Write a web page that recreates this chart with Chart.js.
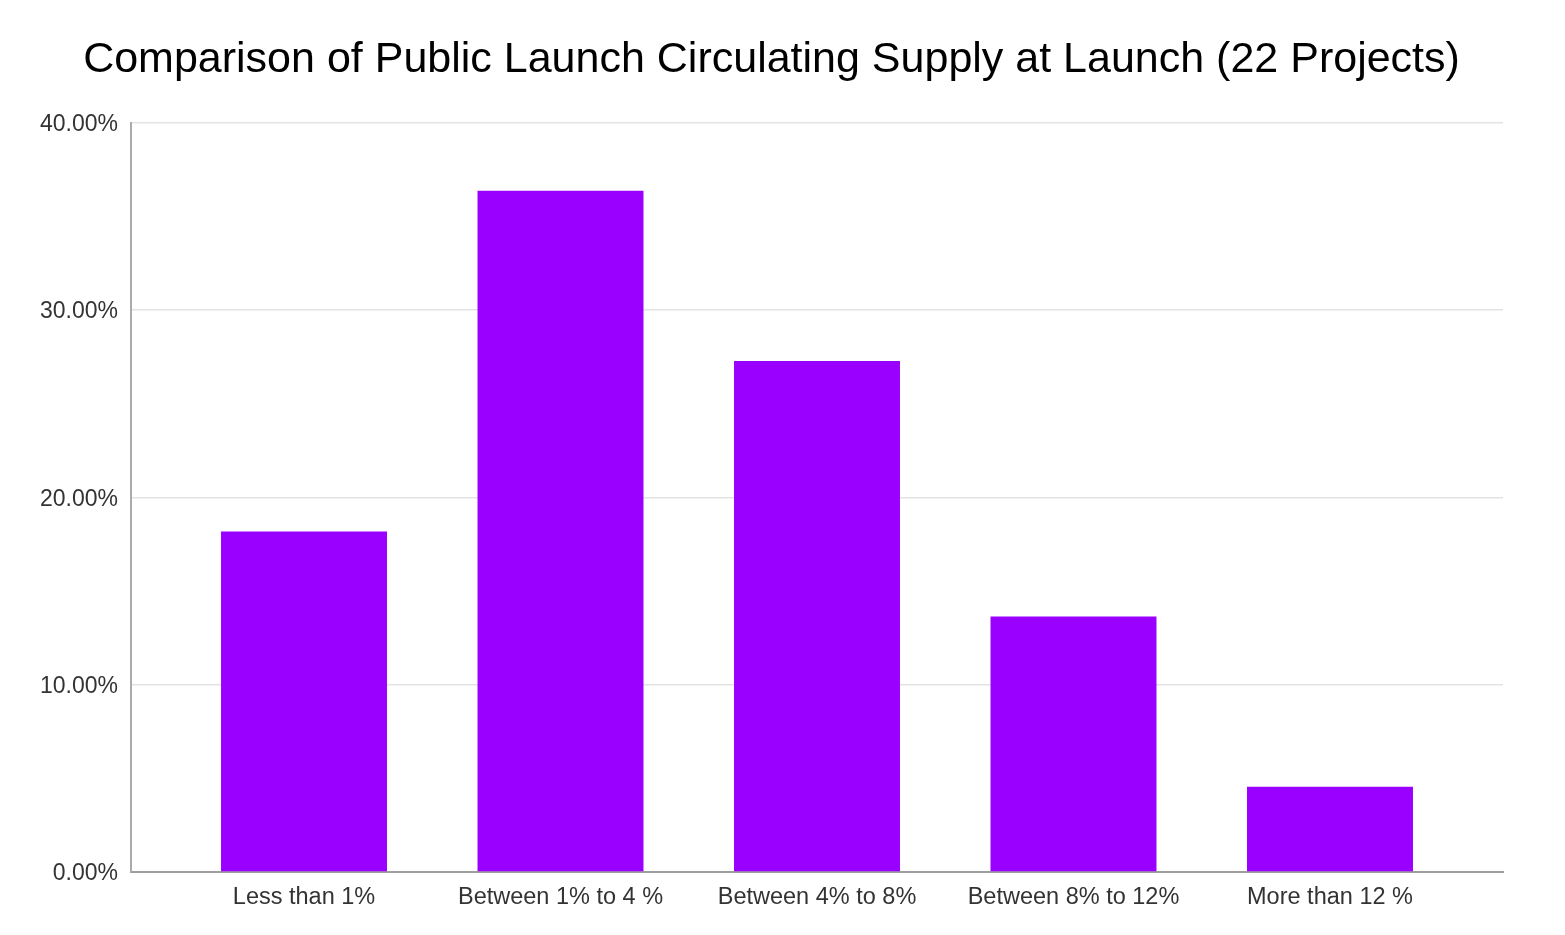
<!DOCTYPE html>
<html>
<head>
<meta charset="utf-8">
<script src="https://cdn.jsdelivr.net/npm/chart.js@4/dist/chart.umd.min.js"></script>
<style>
  html, body { margin: 0; padding: 0; background: #fff; }
  #wrap { width: 1565px; height: 935px; }
</style>
</head>
<body>
<div id="wrap"><canvas id="chart" width="1565" height="935"></canvas></div>
<script>
// share of the 22 projects in each bucket (percent)
const categories = ["Less than 1%", "Between 1% to 4 %", "Between 4% to 8%", "Between 8% to 12%", "More than 12 %"];
const shares = [18.18, 36.36, 27.27, 13.64, 4.55];
const yTicks = [0, 10, 20, 30, 40];

const FONT = "'Liberation Sans', Arial, Helvetica, sans-serif";

// bars sit on a numeric x axis (index of the category) so the
// outer margins can be wider than half a slot, like the original
const points = shares.map((v, i) => ({ x: i, y: v }));
const edge = 0.6745;

const ctx = document.getElementById("chart");
new Chart(ctx, {
    type: "bar",
    data: {
        datasets: [{
            data: points,
            backgroundColor: "#9900ff",
            borderWidth: 0,
            barPercentage: 0.647,
            categoryPercentage: 1
        }]
    },
    options: {
        responsive: false,
        animation: false,
        layout: { padding: { left: 40, right: 62, top: 0, bottom: 0 } },
        plugins: {
            legend: { display: false },
            tooltip: { enabled: false },
            title: {
                display: true,
                text: "Comparison of Public Launch Circulating Supply at Launch (22 Projects)",
                color: "#000",
                font: { family: FONT, size: 43, weight: "normal" },
                padding: { top: 34, bottom: 37 }
            }
        },
        scales: {
            x: {
                type: "linear",
                offset: false,
                min: -edge,
                max: categories.length - 1 + edge,
                afterBuildTicks: function (scale) {
                    scale.ticks = categories.map((c, i) => ({ value: i }));
                },
                grid: { display: false, drawTicks: false },
                border: { color: "#9e9e9e", width: 2 },
                ticks: {
                    color: "#333",
                    font: { family: FONT, size: 23.5 },
                    padding: 11,
                    maxRotation: 0,
                    autoSkip: false,
                    callback: function (v) { return categories[v]; }
                },
                afterFit: function (scale) { scale.height = 63; }
            },
            y: {
                min: yTicks[0],
                max: yTicks[yTicks.length - 1],
                afterBuildTicks: function (scale) {
                    scale.ticks = yTicks.map(v => ({ value: v }));
                },
                grid: { color: "#e3e3e3", lineWidth: 1.5, drawTicks: false },
                border: { color: "#aaaaaa", width: 2 },
                ticks: {
                    color: "#333",
                    font: { family: FONT, size: 23 },
                    padding: 13,
                    labelOffset: 2,
                    callback: function (v) { return v.toFixed(2) + "%"; }
                },
                afterFit: function (scale) { scale.width = 91; }
            }
        }
    }
});
</script>
</body>
</html>
